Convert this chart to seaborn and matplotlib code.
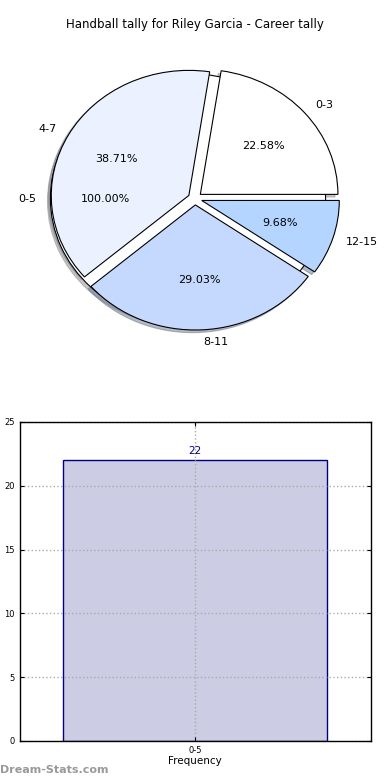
import seaborn as sns
import matplotlib.pyplot as plt
import pandas as pd

# data
ranges = ['0-3', '4-7', '8-11', '12-15']
counts = [7, 12, 9, 3]
range_colors = ['#ffffff', '#ebf1ff', '#c5d9ff', '#b3d5ff']

total_label = ['0-5']
total_count = [22]

sns.set_style("white")
plt.rcParams['font.family'] = ['DejaVu Sans']
plt.rcParams['text.color'] = 'black'
plt.rcParams['axes.labelcolor'] = 'black'
plt.rcParams['xtick.color'] = 'black'
plt.rcParams['ytick.color'] = 'black'

fig, (ax1, ax2) = plt.subplots(2, 1, figsize=(3.9, 7.8), dpi=100)
fig.subplots_adjust(left=0.05, right=0.95, top=0.95, bottom=0.05, hspace=0.2)

shadow_kw = {'ox': -0.015, 'oy': -0.015, 'shade': 0.45}
wedge_kw = {'edgecolor': 'black', 'linewidth': 0.8}

# pie: overall interval underneath, detailed intervals on top
ax1.pie([1], labels=total_label, colors=['white'], explode=[0.05],
        autopct='%.2f%%', shadow=shadow_kw, startangle=0, radius=0.98,
        wedgeprops=wedge_kw, textprops={'fontsize': 8, 'color': 'black'})
ax1.pie(counts, labels=ranges, colors=range_colors, explode=[0.05] * 4,
        autopct='%.2f%%', shadow=shadow_kw, startangle=0, radius=0.98,
        wedgeprops=wedge_kw, textprops={'fontsize': 8, 'color': 'black'})
ax1.set_aspect('auto')
ax1.set_xlim(-1.25, 1.25)
ax1.set_ylim(-1.25, 1.25)
ax1.set_title('Handball tally for Riley Garcia - Career tally', fontsize=8.5,
              pad=8, color='black')

# bar chart
df = pd.DataFrame({'range': total_label, 'count': total_count})
sns.barplot(data=df, x='range', y='count', ax=ax2, width=0.8,
            color='#ccccE4', edgecolor='navy', linewidth=1, saturation=1)
ax2.set_xlim(-0.53, 0.53)
ax2.set_ylim(0, 25)
ax2.set_yticks([0, 5, 10, 15, 20, 25])
for p, v in zip(ax2.patches, total_count):
    ax2.text(p.get_x() + p.get_width() / 2, v + 0.3, str(v),
             ha='center', va='bottom', color='navy', fontsize=7.5)
ax2.grid(True, color='#aaaaaa', linestyle=':', linewidth=1)
ax2.set_axisbelow(False)
for s in ax2.spines.values():
    s.set_color('black')
    s.set_linewidth(1)
    s.set_zorder(5)
ax2.tick_params(direction='in', labelsize=6, top=True, right=True,
                bottom=True, left=True, length=3, color='black')
ax2.set_xlabel('Frequency', fontsize=7.5, labelpad=1)
ax2.set_ylabel('Goal Intervals', fontsize=7.5)
ax2.yaxis.set_label_coords(-0.05, 0.5)

fig.text(0.0, 0.006, 'Dream-Stats.com', color='#999999', fontsize=8,
         fontweight='bold', ha='left', va='bottom')

fig.savefig('out.png', dpi=100)
